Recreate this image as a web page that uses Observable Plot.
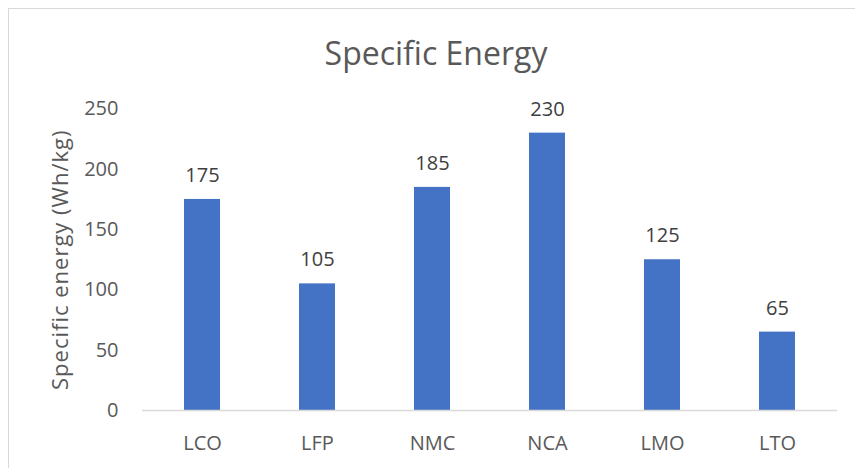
<!DOCTYPE html>
<html>
<head>
<meta charset="utf-8">
<script src="https://cdn.jsdelivr.net/npm/d3@7"></script>
<script src="https://cdn.jsdelivr.net/npm/@observablehq/plot@0.6"></script>
<style>
  html, body { margin: 0; padding: 0; background: #ffffff; }
  #wrap { position: relative; width: 855px; height: 468px; overflow: hidden; }
  #frame { position: absolute; left: 8px; top: 8px; width: 900px; height: 520px; border: 1.5px solid #d9d9d9; box-sizing: border-box; }
  #chart { position: absolute; left: 0; top: 0; }
  .ytitle text { letter-spacing: 1px; }
</style>
</head>
<body>
<div id="wrap"><div id="frame"></div><div id="chart"></div></div>
<script>
const categories = ["LCO", "LFP", "NMC", "NCA", "LMO", "LTO"];
const values = [175, 105, 185, 230, 125, 65];
const yTicks = [0, 50, 100, 150, 200, 250];
const titleText = "Specific Energy";
const yTitle = "Specific energy (Wh/kg)";

const data = categories.map((c, i) => ({cat: c, val: values[i]}));

const chart = Plot.plot({
  width: 855,
  height: 468,
  marginLeft: 142,
  marginRight: 18,
  marginTop: 108.5,
  marginBottom: 58,
  style: {fontFamily: "'Open Sans', sans-serif", fontSize: "20px", color: "#595959", background: "transparent"},
  x: {domain: categories, paddingInner: 0.69, paddingOuter: 0.345, label: null},
  y: {domain: [0, 250], label: null},
  marks: [
    Plot.barY(data, {x: "cat", y: "val", fill: "#4472C4"}),
    Plot.ruleY([0], {stroke: "#d9d9d9", strokeWidth: 1.5}),
    Plot.axisX({tickSize: 0, tickPadding: 25, label: null, fontSize: 20}),
    Plot.axisY({ticks: yTicks, tickSize: 0, tickPadding: 24, label: null, fontSize: 20}),
    Plot.text(data, {x: "cat", y: "val", text: d => String(d.val), dy: -24, lineAnchor: "middle", fill: "#404040", fontSize: 20}),
    Plot.text([yTitle], {frameAnchor: "left", textAnchor: "middle", lineAnchor: "middle", rotate: -90, dx: -82, text: d => d, fill: "#595959", fontSize: 22, className: "ytitle"}),
    Plot.text([titleText], {frameAnchor: "top", dx: -54, dy: -54, text: d => d, fill: "#595959", fontSize: 32, lineAnchor: "middle"})
  ]
});
document.getElementById("chart").appendChild(chart);
</script>
</body>
</html>
